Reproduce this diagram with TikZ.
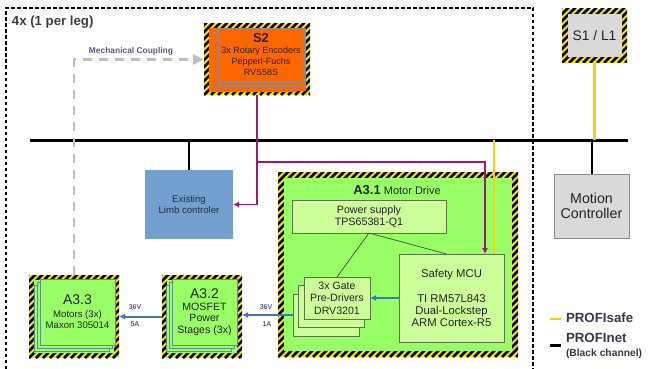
\documentclass[tikz,border=0pt]{standalone}
\usepackage{fontspec}
\setmainfont{Liberation Sans}
\usetikzlibrary{arrows.meta,calc}
\definecolor{hzy}{RGB}{255,232,0}
\definecolor{org}{RGB}{255,102,0}
\definecolor{grn}{RGB}{153,255,102}
\definecolor{lgrn}{RGB}{204,255,153}
\definecolor{gbox}{RGB}{217,217,217}
\definecolor{bbox}{RGB}{115,159,207}
\definecolor{purp}{RGB}{158,22,120}
\definecolor{yl}{RGB}{255,204,20}
\definecolor{bl}{RGB}{68,114,196}
\definecolor{gry}{RGB}{191,191,191}
\definecolor{txt}{RGB}{35,35,35}
\definecolor{mtxt}{RGB}{95,85,135}
\definecolor{edg}{RGB}{95,115,75}
\definecolor{legtxt}{RGB}{55,55,75}
\newcommand{\fs}[2]{\fontsize{#1}{#2}\selectfont}
\begin{document}
\begin{tikzpicture}[x=1pt,y=-1pt,
  every node/.style={inner sep=0pt,outer sep=0pt,align=center,text=txt},
  hazard/.style={fill=hzy,draw=none,path picture={
    \foreach \k in {-30,...,36}{
      \draw[black,line width=2.5pt] ($(path picture bounding box.south west)+(\k*7pt,0pt)$) -- ++(200pt,200pt);
    }}},
  stackbox/.style={fill=#1,draw=black!45,line width=0.5pt},
  gstack/.style={fill=grn,draw={rgb,255:red,100;green,135;blue,165},line width=0.6pt},
  lbox/.style={fill=lgrn,draw=edg,line width=0.6pt},
  bus/.style={black,line width=3pt},
  drop/.style={black,line width=2pt},
  yline/.style={yl,line width=2.5pt},
  pline/.style={purp,line width=1.8pt,-{Latex[length=6pt,width=6pt]}},
  barrow/.style={bl,line width=2pt,-{Latex[length=6pt,width=6pt]}},
  thinln/.style={edg!70!black,line width=0.7pt},
  mech/.style={gry,line width=2.5pt,dash pattern=on 9pt off 7pt,-{Triangle[length=11pt,width=10pt]}},
  lbl/.style={font=\bfseries\fs{7}{8},text=mtxt}
]
\useasboundingbox (0,0) rectangle (653,369);

% outer "4x" boundary
\draw[black,line width=2.5pt,dash pattern=on 3.5pt off 2.5pt] (6,369) -- (6,8) -- (533,8) -- (533,369);
\node[anchor=west,font=\bfseries\fs{13.2}{15},text={rgb,255:red,60;green,60;blue,70}] (legtitle) at (12,22) {4x (1 per leg)};

% bus
\coordinate (busL) at (30,140);
\coordinate (busR) at (628,140);
\draw[bus] (busL) -- (busR);

% S2
\node[hazard,minimum width=106pt,minimum height=71pt] (s2) at (257,59.5) {};
\node[fill=org,minimum width=97pt,minimum height=63pt] (s2base) at (257,59.5) {};
\node[stackbox=org,minimum width=86pt,minimum height=54pt] (s2c) at (252,64) {};
\node[stackbox=org,minimum width=86pt,minimum height=54pt] (s2b) at (256.5,59.5) {};
\node[stackbox=org,minimum width=86pt,minimum height=54pt,font=\fs{9}{11}] (s2a) at (261,55)
  {{\fs{13}{13}\bfseries S2}\\3x Rotary Encoders\\Pepperl-Fuchs\\RVS58S};

% S1 / L1
\node[hazard,minimum width=65pt,minimum height=54pt] (s1f) at (594.5,36) {};
\node[fill=gbox,minimum width=54pt,minimum height=43pt,font=\fs{13.8}{15}] (s1) at (594.5,36) {S1 / L1};

% Existing limb controller
\node[fill=bbox,minimum width=88pt,minimum height=69pt,font=\fs{9.6}{10.8},text={rgb,255:red,35;green,45;blue,70}] (limb) at (189,204.5) {Existing\\Limb controler};

% Motion controller
\node[fill=gbox,draw=black!45,line width=0.6pt,minimum width=75pt,minimum height=64pt,font=\fs{14.2}{15.5}] (mc) at (591.5,206) {Motion\\Controller};

% A3.1
\node[hazard,minimum width=240pt,minimum height=185pt] (a31) at (398,264.5) {};
\node[fill=grn,minimum width=228pt,minimum height=173pt] (a31in) at (398,264.5) {};
\node[font=\fs{11}{12}] (a31t) at (397,190) {{\fs{13}{14}\bfseries A3.1} Motor Drive};
\node[lbox,minimum width=154pt,minimum height=33pt,font=\fs{10.7}{12}] (ps) at (369,216.5) {Power supply\\TPS65381-Q1};
\node[lbox,minimum width=105pt,minimum height=88pt,font=\fs{11.3}{12.4}] (mcu) at (451.5,298) {Safety MCU\\[12.4pt]TI RM57L843\\Dual-Lockstep\\ARM Cortex-R5};
\node[lbox,minimum width=66pt,minimum height=42pt] (gd3) at (326,315) {};
\node[lbox,minimum width=66pt,minimum height=42pt] (gd2) at (331.5,306.5) {};
\node[lbox,minimum width=66pt,minimum height=42pt,font=\fs{10.6}{12.4}] (gd1) at (337,298) {3x Gate\\Pre-Drivers\\DRV3201};

% A3.2
\node[hazard,minimum width=80pt,minimum height=83pt] (a32) at (202,316.5) {};
\node[fill=grn,minimum width=70pt,minimum height=73pt] (a32base) at (202,316.5) {};
\node[gstack,minimum width=65pt,minimum height=66pt] (a32c) at (198.5,318) {};
\node[gstack,minimum width=65pt,minimum height=66pt] (a32b) at (201.5,315) {};
\node[gstack,minimum width=65pt,minimum height=66pt,font=\fs{10.6}{11.3}] (a32a) at (204.5,312)
  {{\fs{14}{15}A3.2}\\[1pt]MOSFET\\Power\\Stages (3x)};

% A3.3
\node[hazard,minimum width=90pt,minimum height=83pt] (a33) at (74,316.5) {};
\node[fill=grn,minimum width=80pt,minimum height=73pt] (a33base) at (74,316.5) {};
\node[gstack,minimum width=75pt,minimum height=66pt] (a33c) at (71.5,318) {};
\node[gstack,minimum width=75pt,minimum height=66pt] (a33b) at (74.5,315) {};
\node[gstack,minimum width=75pt,minimum height=66pt,font=\fs{9.6}{11}] (a33a) at (77.5,312)
  {{\fs{14}{15}A3.3}\\[2pt]Motors (3x)\\Maxon 305014};

% bus drops
\draw[drop] (limb.north) -- (limb.north |- busL);
\draw[drop] (mc.north) -- (mc.north |- busL);
\draw[yline] (s1f.south) -- (s1f.south |- busL);
\coordinate (mcuY) at ([xshift=42.5pt]mcu.north);
\draw[yline] (mcuY |- busL) -- (mcuY);

% purple encoder signals
\coordinate (mcuP) at ([xshift=33.5pt]mcu.north);
\coordinate (pj) at (s2.south |- 0,162);
\draw[pline] (s2.south) |- (limb.east);
\draw[pline] (pj) -| (mcuP);

% mechanical coupling
\draw[mech] (a33.north) |- (s2.west);
\node[font=\bfseries\fs{8.4}{9},text=mtxt] (mechlbl) at (131,51) {Mechanical Coupling};

% inside A3.1
\draw[thinln] (ps.south) -- (gd1.north);
\draw[thinln] (ps.south) -- ([xshift=-5pt]mcu.north);
\draw[barrow] (mcu.west) -- (gd1.east);

% power path
\draw[barrow] (gd3.west) -- (gd3.west -| a32.east);
\draw[barrow] (a32.west) -- (a33.east);
\node[lbl] (v2) at (266,307) {36V};
\node[lbl] (i2) at (267,324) {1A};
\node[lbl] (v1) at (135,307) {36V};
\node[lbl] (i1) at (135,324) {5A};

% legend
\draw[yline] (550,319) -- (561,319);
\node[anchor=west,font=\bfseries\fs{13.3}{14},text=legtxt] (pslbl) at (566,318) {PROFIsafe};
\draw[black,line width=2.5pt] (550,345.5) -- (561,345.5);
\node[anchor=west,font=\bfseries\fs{13.3}{14},text=legtxt] (pnlbl) at (566,338) {PROFInet};
\node[anchor=west,font=\bfseries\fs{10.3}{11},text=legtxt] (bclbl) at (566,354) {(Black channel)};
\end{tikzpicture}
\end{document}
